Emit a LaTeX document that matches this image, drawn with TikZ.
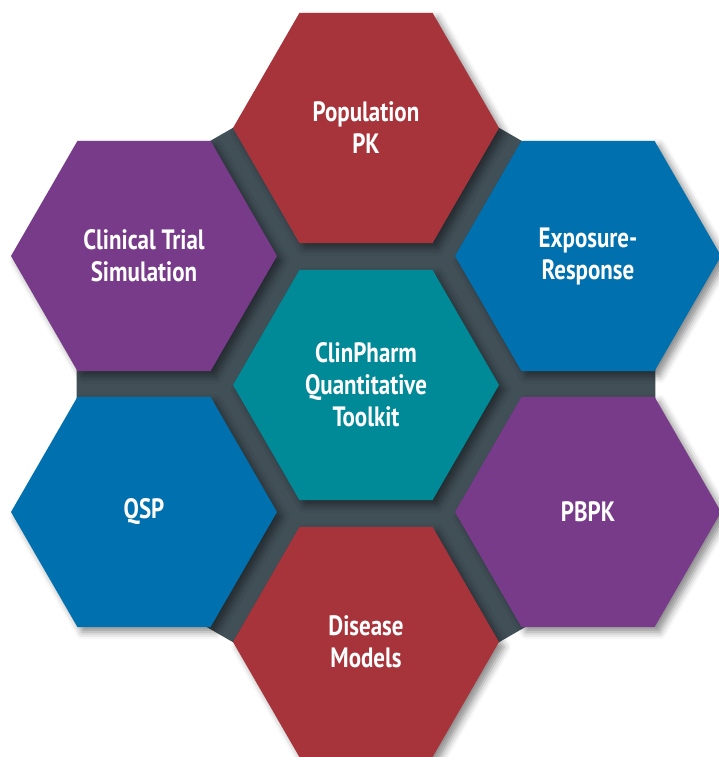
\documentclass[tikz,border=0pt]{standalone}
\usepackage{fontspec}
\setmainfont{PT Sans}[FakeStretch=0.82]
\usetikzlibrary{shapes.geometric, shadows.blur, backgrounds}

\definecolor{redhex}{HTML}{A8343B}
\definecolor{purplehex}{HTML}{783B89}
\definecolor{bluehex}{HTML}{0071AE}
\definecolor{tealhex}{HTML}{008996}
\definecolor{slate}{HTML}{414F57}

\tikzset{
    hexcell/.style={regular polygon, regular polygon sides=6, minimum size=266pt,
        inner sep=0pt, outer sep=0pt, text=white, align=center,
        font=\bfseries\fontsize{28}{32}\selectfont,
        blur shadow={shadow xshift=5pt, shadow yshift=-5pt,
            shadow blur radius=7pt, shadow opacity=45}}
}

\begin{document}
\begin{tikzpicture}[x=1pt, y=-1pt]
    \useasboundingbox (0,0) rectangle (719,757);

    % The hub and the six cells round it
    \node[hexcell, fill=tealhex] (hub) at (366,385) {ClinPharm\\Quantitative\\Toolkit};
    \node[hexcell, fill=redhex] (poppk) at (366,128) {Population\\PK};
    \node[hexcell, fill=bluehex] (expresp) at (588,256) {Exposure-\\Response};
    \node[hexcell, fill=purplehex] (pbpk) at (588,512) {PBPK};
    \node[hexcell, fill=redhex] (disease) at (366,642) {Disease\\Models};
    \node[hexcell, fill=bluehex] (qsp) at (144,512) {QSP};
    \node[hexcell, fill=purplehex] (cts) at (144,256) {Clinical Trial\\Simulation};

    % Dark frame behind the cells
    \begin{scope}[on background layer]
        \fill[slate] (hub.center) +(30:334) -- +(90:334) -- +(150:334)
            -- +(210:334) -- +(270:334) -- +(330:334) -- cycle;
    \end{scope}
\end{tikzpicture}
\end{document}
